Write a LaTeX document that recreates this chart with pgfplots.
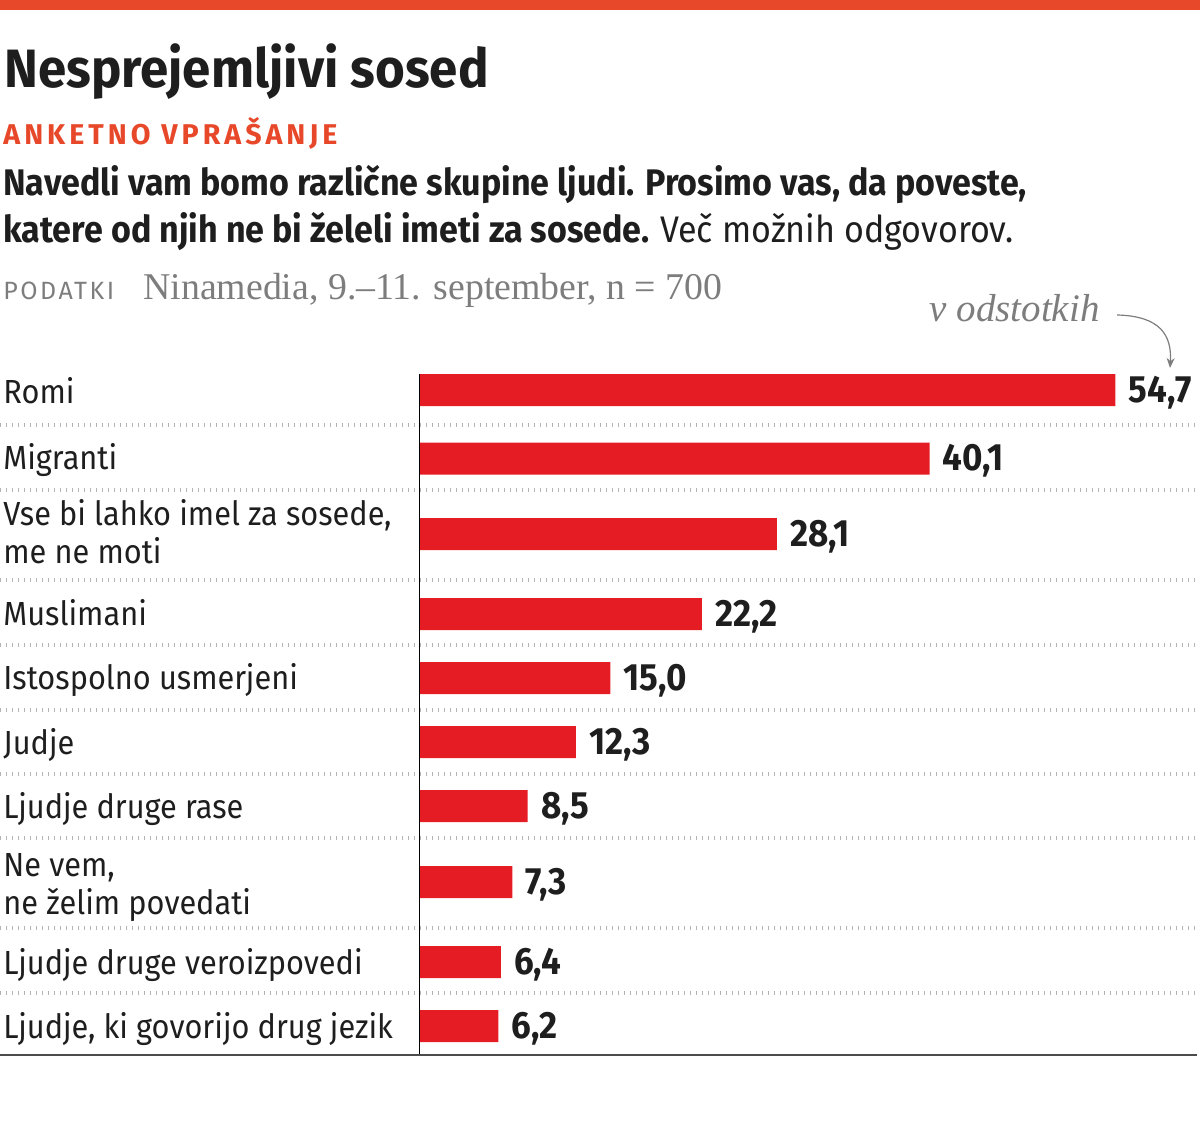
\documentclass[border=0pt]{standalone}
\usepackage{fontspec}
\usepackage{pgfplots}
\usepackage{pgfplotstable}
\pgfplotsset{compat=1.18}
\usetikzlibrary{arrows.meta}
\setmainfont{Fira Sans}[FakeStretch=0.92]
\newfontfamily\titlefont{Fira Sans}[FakeStretch=0.945]
\newfontfamily\spacedfont{Fira Sans}[LetterSpace=14]
\newfontfamily\podfont{Fira Sans}[LetterSpace=10]
\newfontfamily\seriffont{Liberation Serif}
\definecolor{barred}{RGB}{230,28,36}
\definecolor{orng}{RGB}{232,72,42}
\definecolor{txt}{RGB}{30,30,30}
\definecolor{gry}{RGB}{125,125,125}
\definecolor{dotg}{RGB}{180,180,180}
\pgfplotstableread{
y val
390 54.7
458.5 40.1
534 28.1
614 22.2
678 15.0
742 12.3
806 8.5
882 7.3
962 6.4
1026 6.2
}\data
\begin{document}
\begin{tikzpicture}
\useasboundingbox (0,0) rectangle (600pt,568.5pt);
\begin{axis}[at={(0,0)}, anchor=south west, scale only axis,
  width=600pt, height=568.5pt,
  xmin=-32.98, xmax=61.36, ymin=0, ymax=1137, y dir=reverse,
  hide axis, clip=false, xbar, bar width=16pt]
\addplot[fill=barred, draw=none, point meta=x,
  nodes near coords={\pgfmathprintnumber[fixed,fixed zerofill,precision=1,use comma,assume math mode=true]{\pgfplotspointmeta}},
  nodes near coords style={anchor=west, inner sep=0pt, xshift=6.5pt, yshift=-1.2pt, text=txt, font=\bfseries\fontsize{19}{20}\selectfont}]
  table[x=val,y=y]{\data};
\end{axis}
\begin{scope}[x=0.5pt,y=-0.5pt,yshift=568.5pt]
\fill[orng] (0,0) rectangle (1200,10);
\node[anchor=base west, inner sep=0, text=txt, font=\titlefont\bfseries\fontsize{27}{30}\selectfont] at (4,88) {Nesprejemljivi sosed};
\node[anchor=base west, inner sep=0, text=orng, font=\spacedfont\bfseries\fontsize{14.3}{16}\selectfont] at (3,145) {ANKETNO VPRAŠANJE};
\node[anchor=base west, inner sep=0, text=txt, font=\bfseries\fontsize{18.5}{20}\selectfont] at (3,196) {Navedli vam bomo različne skupine ljudi. Prosimo vas, da poveste,};
\node[anchor=base west, inner sep=0, text=txt, font=\bfseries\fontsize{18.5}{20}\selectfont] at (3,243) {katere od njih ne bi želeli imeti za sosede. {\mdseries Več možnih odgovorov.}};
\node[anchor=base west, inner sep=0, text=gry, font=\podfont\fontsize{12.5}{13}\selectfont] at (3,300) {PODATKI};
\node[anchor=base west, inner sep=0, text=gry, font=\seriffont\fontsize{18.9}{20}\selectfont] at (143,300) {Ninamedia, 9.–11. september, n = 700};
\node[anchor=base east, inner sep=0, text=gry, font=\seriffont\itshape\fontsize{19.5}{20}\selectfont] at (1100,322) {v odstotkih};
\draw[gry, line width=0.6pt, -{Stealth[length=5pt,width=4pt]}] (1117,315) .. controls (1160,316) and (1172,335) .. (1170,368);
% separators
\foreach \yy in {425,490,580,645,710,774,838,928,993}
  \draw[dotg, line width=2pt, dash pattern=on 0.6pt off 2.4pt] (0,\yy) -- (1197,\yy);
\draw[black, line width=0.8pt] (419.5,374) -- (419.5,1055);
\draw[black!70, line width=1pt] (0,1055) -- (1197,1055);
% labels
\begin{scope}[every node/.style={anchor=base west, inner sep=0, text=txt, font=\fontsize{16.7}{19}\selectfont}]
\node at (3,404) {Romi};
\node at (3,470) {Migranti};
\node at (3,526) {Vse bi lahko imel za sosede,};
\node at (3,564) {me ne moti};
\node at (3,626) {Muslimani};
\node at (3,690) {Istospolno usmerjeni};
\node at (3,754) {Judje};
\node at (3,818) {Ljudje druge rase};
\node at (3,876) {Ne vem,};
\node at (3,914) {ne želim povedati};
\node at (3,974) {Ljudje druge veroizpovedi};
\node at (3,1038) {Ljudje, ki govorijo drug jezik};
\end{scope}
\end{scope}
\end{tikzpicture}
\end{document}
